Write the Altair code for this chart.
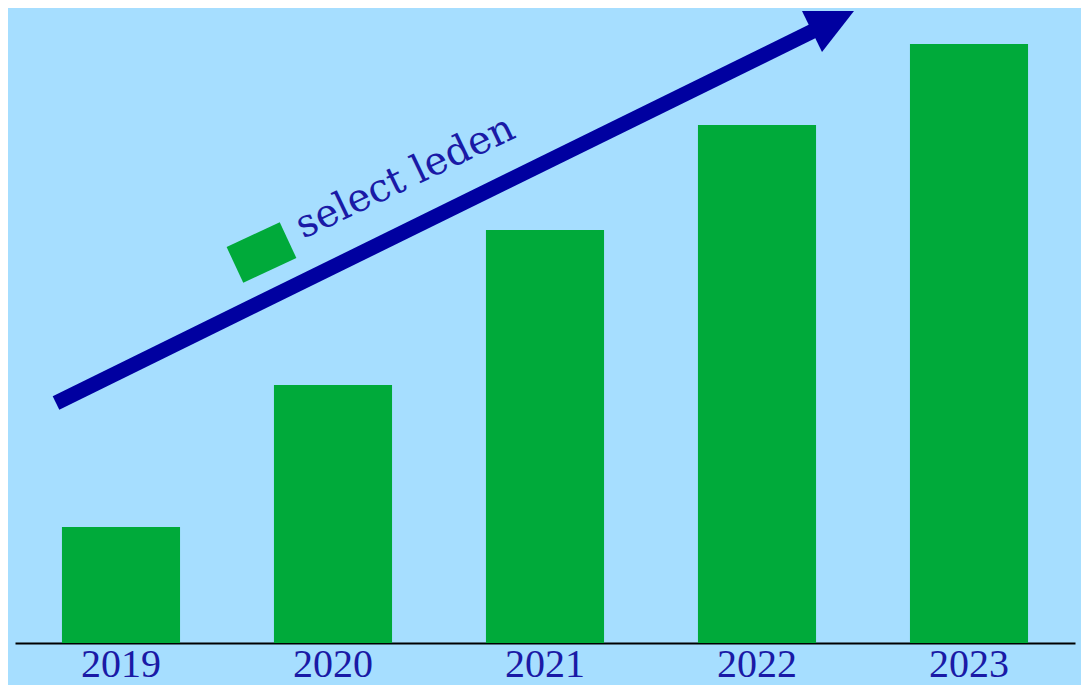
import altair as alt
import pandas as pd

# Bar data
years = ["2019", "2020", "2021", "2022", "2023"]
members = [116, 258, 413, 518, 599]

# Annotation (in band-index units on x, member units on y)
arrow_x = [0.1934]
arrow_x2 = [3.788]
arrow_y = [240]
arrow_y2 = [614.5]
head_x = [3.8255]
head_y = [618.3]
box_x = [1.1627]
box_y = [390.5]
label_x = [1.36]
label_y = [404]
label_text = ["select leden"]

BG = "#a6deff"
GREEN = "#00aa3a"
ARROW = "#0000a0"
TEXT = "#1a1aa6"

bars_df = pd.DataFrame({"year": years, "members": members})
arrow_df = pd.DataFrame({"x": arrow_x, "x2": arrow_x2, "y": arrow_y, "y2": arrow_y2})
head_df = pd.DataFrame({"x": head_x, "y": head_y})
box_df = pd.DataFrame({"x": box_x, "y": box_y})
label_df = pd.DataFrame({"x": label_x, "y": label_y, "t": label_text})

yscale = alt.Scale(domain=[0, 635], nice=False, zero=True)
xq = alt.Scale(domain=[0, 5], nice=False, zero=False)

bars = alt.Chart(bars_df).mark_bar(color=GREEN).encode(
    x=alt.X("year:O", sort=years,
            scale=alt.Scale(paddingInner=0.443, paddingOuter=0.2215),
            axis=alt.Axis(title=None, labelAngle=0, ticks=False, grid=False,
                          domainColor="black", domainWidth=2,
                          labelFont="Liberation Serif", labelFontSize=40,
                          labelColor=TEXT, labelBaseline="alphabetic",
                          labelPadding=33)),
    y=alt.Y("members:Q", scale=yscale, axis=None),
)

shaft = alt.Chart(arrow_df).mark_rule(color=ARROW, strokeWidth=15, strokeCap="butt").encode(
    x=alt.X("x:Q", scale=xq, axis=None),
    x2="x2:Q",
    y=alt.Y("y:Q", scale=yscale, axis=None),
    y2="y2:Q",
)

head = alt.Chart(head_df).mark_point(
    shape="M-0.8,-0.456L0.933,-0.456L-0.133,0.911Z",
    size=3600, filled=True, color=ARROW, opacity=1, strokeWidth=0,
).encode(
    x=alt.X("x:Q", scale=xq, axis=None),
    y=alt.Y("y:Q", scale=yscale, axis=None),
)

box = alt.Chart(box_df).mark_point(
    shape="M-1,-0.672L1,-0.672L1,0.672L-1,0.672Z",
    size=3434, filled=True, color=GREEN, opacity=1, strokeWidth=0, angle=335,
).encode(
    x=alt.X("x:Q", scale=xq, axis=None),
    y=alt.Y("y:Q", scale=yscale, axis=None),
)

label = alt.Chart(label_df).mark_text(
    font="DejaVu Serif", fontSize=39, color=TEXT, align="left",
    baseline="alphabetic", angle=334.5,
).encode(
    x=alt.X("x:Q", scale=xq, axis=None),
    y=alt.Y("y:Q", scale=yscale, axis=None),
    text="t:N",
)

chart = alt.layer(bars, shaft, head, box, label).resolve_scale(x="independent").properties(
    width=1060, height=635,
    autosize=alt.AutoSizeParams(type="none"),
    padding={"left": 7, "top": 0, "right": 6, "bottom": 42},
    background=BG,
).configure_view(stroke=None)

chart.save("out.html", embed_options={"renderer": "svg", "actions": False})
